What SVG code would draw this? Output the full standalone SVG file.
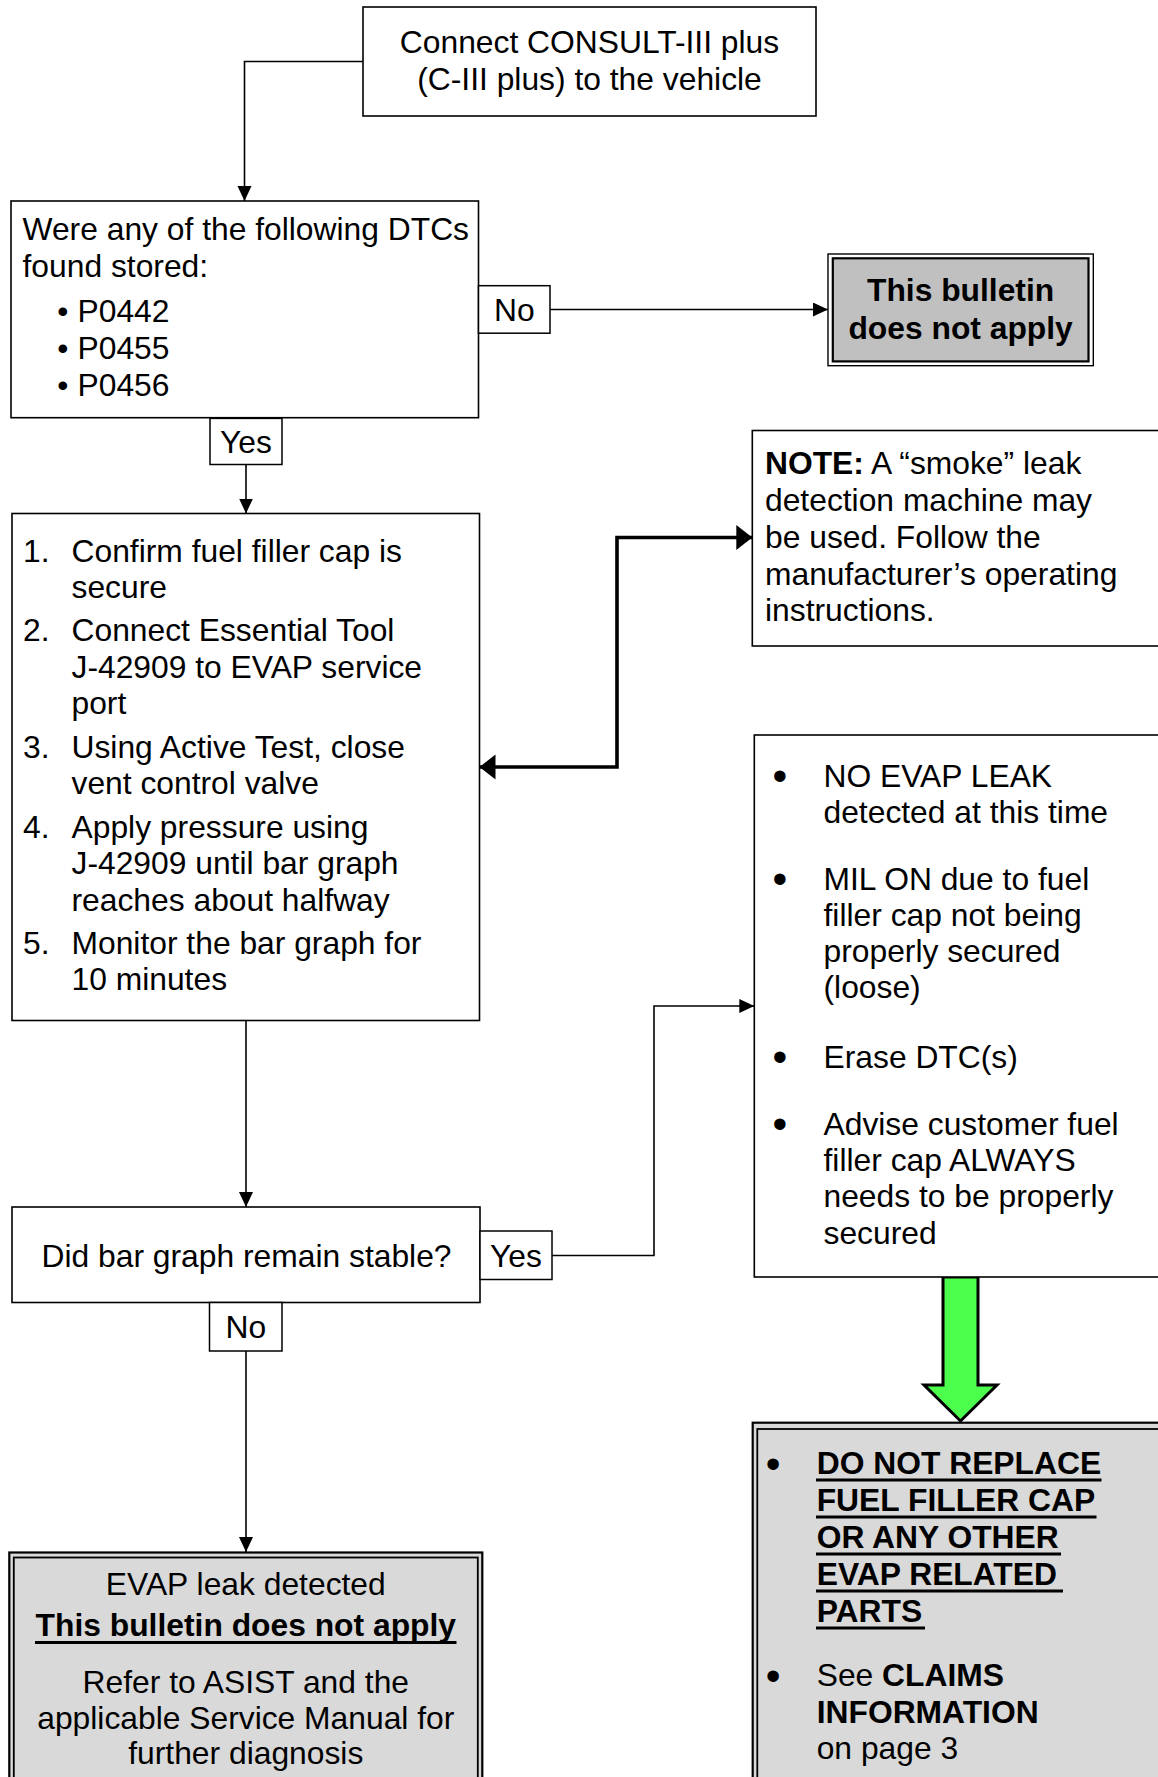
<svg xmlns="http://www.w3.org/2000/svg" width="1158" height="1777" viewBox="0 0 1158 1777">
<style>
  text { font-family: "Liberation Sans", Arial, Helvetica, sans-serif; font-size: 31.8px; fill: #000; }
  .c { text-anchor: middle; }
  .b { font-weight: bold; }
  .big { font-size: 42px; }
  .box { fill: #fff; stroke: #000; stroke-width: 1.6; }
  .lbl { fill: #fff; stroke: #000; stroke-width: 1.5; }
  .conn { fill: none; stroke: #000; stroke-width: 1.6; }
  .thick { fill: none; stroke: #000; stroke-width: 3.6; }
  .ul { stroke: #000; stroke-width: 3; }
  .outerA { fill: #fff; stroke: #000; stroke-width: 1.4; }
  .innerA { fill: #c0c0c0; stroke: #000; stroke-width: 2.2; }
  .outerB { fill: #d9d9d9; stroke: #000; stroke-width: 2.2; }
  .innerB { fill: #d9d9d9; stroke: #000; stroke-width: 1.8; }
</style>
<defs>
  <marker id="ah" markerUnits="userSpaceOnUse" markerWidth="16" markerHeight="15" refX="15" refY="7" orient="auto">
    <path d="M0,0 L15,7 L0,14 Z" fill="#000"/>
  </marker>
  <marker id="ahThick" markerUnits="userSpaceOnUse" markerWidth="17" markerHeight="26" refX="16" refY="12.5" orient="auto-start-reverse">
    <path d="M0,0 L16,12.5 L0,25 Z" fill="#000"/>
  </marker>
</defs>

<g id="connectors">
  <path class="conn" d="M363,61.5 H244.5 V201" marker-end="url(#ah)"/>
  <path class="conn" d="M550,309.5 H828" marker-end="url(#ah)"/>
  <path class="conn" d="M246,464.5 V513.5" marker-end="url(#ah)"/>
  <path class="thick" d="M479.5,767 H617 V537.5 H752.3" marker-start="url(#ahThick)" marker-end="url(#ahThick)"/>
  <path class="conn" d="M246,1020.5 V1207" marker-end="url(#ah)"/>
  <path class="conn" d="M552,1255.5 H654 V1006 H754.3" marker-end="url(#ah)"/>
  <path class="conn" d="M246,1351 V1552" marker-end="url(#ah)"/>
  <path d="M943,1277 L978,1277 L978,1385 L997,1385 L960.5,1421 L924,1385 L943,1385 Z" fill="#4dff4d" stroke="#000" stroke-width="3" stroke-linejoin="miter"/>
</g>

<g id="node-connect">
  <rect class="box" x="363" y="7" width="453" height="109"/>
  <text class="c" x="589.5" y="53">Connect CONSULT-III plus</text>
  <text class="c" x="589.5" y="89.5">(C-III plus) to the vehicle</text>
</g>

<g id="node-dtcs">
  <rect class="box" x="11" y="201" width="467.5" height="216.7"/>
  <text x="22.5" y="240">Were any of the following DTCs</text>
  <text x="22.5" y="277">found stored:</text>
  <text x="57.3" y="321.5">•</text><text x="77.5" y="321.5">P0442</text>
  <text x="57.3" y="358.5">•</text><text x="77.5" y="358.5">P0455</text>
  <text x="57.3" y="395.5">•</text><text x="77.5" y="395.5">P0456</text>
</g>

<g id="label-no-1">
  <rect class="lbl" x="478.5" y="285.7" width="71.5" height="47.5"/>
  <text class="c" x="514.3" y="321">No</text>
</g>

<g id="node-not-apply-1">
  <rect class="outerA" x="828" y="254" width="265.3" height="111.7"/>
  <rect class="innerA" x="832.8" y="258.3" width="255.7" height="103.1"/>
  <text class="c b" x="960.6" y="301">This bulletin</text>
  <text class="c b" x="960.6" y="338.5">does not apply</text>
</g>

<g id="label-yes-1">
  <rect class="lbl" x="210" y="418.4" width="72" height="46.1"/>
  <text class="c" x="246" y="453">Yes</text>
</g>

<g id="node-steps">
  <rect class="box" x="12" y="513.5" width="467.5" height="507"/>
  <text x="23" y="561.5">1.</text><text x="71.5" y="561.5">Confirm fuel filler cap is</text>
  <text x="71.5" y="597.5">secure</text>
  <text x="23" y="640.8">2.</text><text x="71.5" y="640.8">Connect Essential Tool</text>
  <text x="71.5" y="677.5">J-42909 to EVAP service</text>
  <text x="71.5" y="714">port</text>
  <text x="23" y="757.8">3.</text><text x="71.5" y="757.8">Using Active Test, close</text>
  <text x="71.5" y="794">vent control valve</text>
  <text x="23" y="838">4.</text><text x="71.5" y="838">Apply pressure using</text>
  <text x="71.5" y="874">J-42909 until bar graph</text>
  <text x="71.5" y="910.5">reaches about halfway</text>
  <text x="23" y="954">5.</text><text x="71.5" y="954">Monitor the bar graph for</text>
  <text x="71.5" y="990">10 minutes</text>
</g>

<g id="node-note">
  <rect class="box" x="752.3" y="430.5" width="420" height="215.5"/>
  <text x="765" y="474"><tspan class="b">NOTE:</tspan> A “smoke” leak</text>
  <text x="765" y="511">detection machine may</text>
  <text x="765" y="548">be used. Follow the</text>
  <text x="765" y="584.5">manufacturer’s operating</text>
  <text x="765" y="621">instructions.</text>
</g>

<g id="node-no-leak">
  <rect class="box" x="754.3" y="735" width="420" height="542"/>
  <text class="big" x="772.5" y="790">•</text><text x="823.5" y="787">NO EVAP LEAK</text>
  <text x="823.5" y="823">detected at this time</text>
  <text class="big" x="772.5" y="893">•</text><text x="823.5" y="890">MIL ON due to fuel</text>
  <text x="823.5" y="926">filler cap not being</text>
  <text x="823.5" y="962">properly secured</text>
  <text x="823.5" y="998">(loose)</text>
  <text class="big" x="772.5" y="1071">•</text><text x="823.5" y="1068">Erase DTC(s)</text>
  <text class="big" x="772.5" y="1138">•</text><text x="823.5" y="1135">Advise customer fuel</text>
  <text x="823.5" y="1171">filler cap ALWAYS</text>
  <text x="823.5" y="1207">needs to be properly</text>
  <text x="823.5" y="1243.5">secured</text>
</g>

<g id="node-stable">
  <rect class="box" x="12" y="1207" width="468" height="95.5"/>
  <text class="c" x="246.5" y="1266.5">Did bar graph remain stable?</text>
</g>

<g id="label-yes-2">
  <rect class="lbl" x="480" y="1231" width="72" height="48.5"/>
  <text class="c" x="516" y="1266.5">Yes</text>
</g>

<g id="label-no-2">
  <rect class="lbl" x="209.5" y="1302.5" width="72.5" height="48.5"/>
  <text class="c" x="245.8" y="1338.3">No</text>
</g>

<g id="node-leak-detected">
  <rect class="outerB" x="9.3" y="1552.5" width="473" height="260"/>
  <rect class="innerB" x="13.8" y="1557.5" width="464" height="250"/>
  <text class="c" x="245.8" y="1595">EVAP leak detected</text>
  <text class="c b" x="245.8" y="1636">This bulletin does not apply</text>
  <line class="ul" x1="35" y1="1642.5" x2="456.5" y2="1642.5"/>
  <text class="c" x="245.8" y="1693">Refer to ASIST and the</text>
  <text class="c" x="245.8" y="1729">applicable Service Manual for</text>
  <text class="c" x="245.8" y="1764">further diagnosis</text>
</g>

<g id="node-do-not-replace">
  <rect class="outerB" x="752.7" y="1422.7" width="430" height="400"/>
  <rect class="innerB" x="757.3" y="1429" width="420" height="390"/>
  <text class="big" x="765.8" y="1478">•</text>
  <text class="b" x="816.7" y="1474">DO NOT REPLACE</text>
  <line class="ul" x1="816" y1="1480" x2="1101.5" y2="1480"/>
  <text class="b" x="816.7" y="1511">FUEL FILLER CAP</text>
  <line class="ul" x1="816" y1="1517" x2="1096.5" y2="1517"/>
  <text class="b" x="816.7" y="1548">OR ANY OTHER</text>
  <line class="ul" x1="816" y1="1554" x2="1061" y2="1554"/>
  <text class="b" x="816.7" y="1585">EVAP RELATED</text>
  <line class="ul" x1="816" y1="1591" x2="1063" y2="1591"/>
  <text class="b" x="816.7" y="1622">PARTS</text>
  <line class="ul" x1="816" y1="1628" x2="925" y2="1628"/>
  <text class="big" x="765.8" y="1690">•</text>
  <text x="816.7" y="1686">See <tspan class="b">CLAIMS</tspan></text>
  <text class="b" x="816.7" y="1723">INFORMATION</text>
  <text x="816.7" y="1759">on page 3</text>
</g>
</svg>
